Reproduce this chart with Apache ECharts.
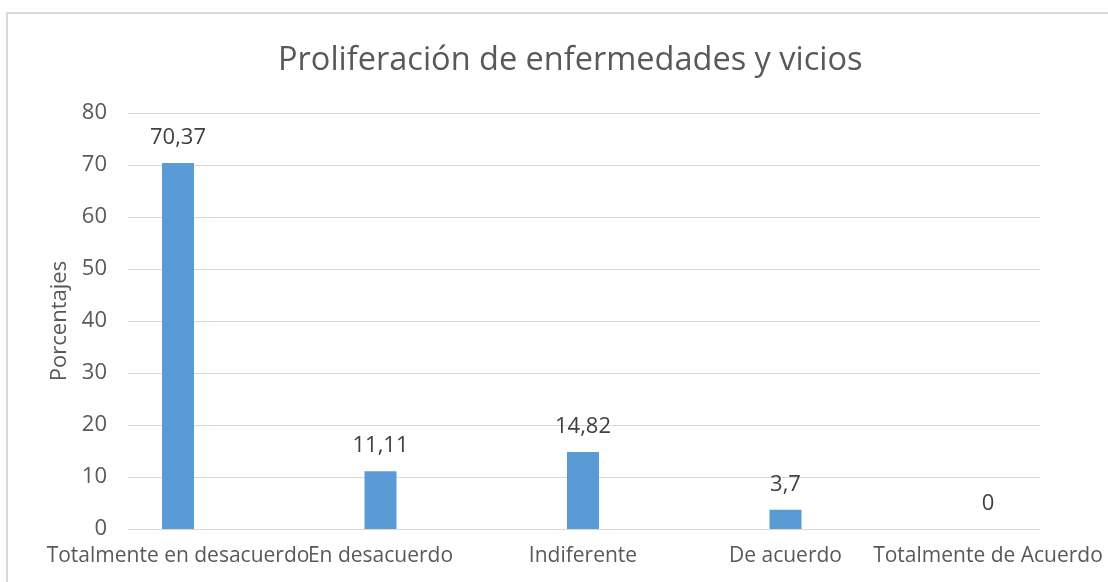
<!DOCTYPE html>
<html>
<head>
<meta charset="utf-8">
<script src="https://cdn.jsdelivr.net/npm/echarts@6/dist/echarts.min.js"></script>
<style>
  html, body { margin: 0; padding: 0; background: #fff; }
  #chart { width: 1108px; height: 582px; }
</style>
</head>
<body>
<div id="chart"></div>
<script>
const categories = ['Totalmente en desacuerdo', 'En desacuerdo', 'Indiferente', 'De acuerdo', 'Totalmente de Acuerdo']
const values = [70.37, 11.11, 14.82, 3.7, 0]
const yMin = 0
const yMax = 80
const yStep = 10

const font = '"Open Sans", sans-serif'
const chart = echarts.init(document.getElementById('chart'))

chart.setOption({
  backgroundColor: '#fff',
  animation: false,
  title: {
    text: 'Proliferación de enfermedades y vicios',
    left: 273,
    top: 39,
    textStyle: { fontFamily: font, fontSize: 32.5, fontWeight: 'normal', color: '#595959' }
  },
  graphic: [{
    type: 'rect',
    shape: { x: 7, y: 13, width: 1130, height: 620 },
    style: { fill: 'none', stroke: '#d9d9d9', lineWidth: 2 },
    silent: true
  }],
  grid: [
    // gridlines + y labels
    { left: 128, right: 68, top: 113, bottom: 53 },
    // bars
    { left: 178, right: 120, top: 113, bottom: 53 }
  ],
  xAxis: [
    { gridIndex: 0, type: 'value', show: false, min: 0, max: 1 },
    {
      gridIndex: 1,
      type: 'category',
      data: categories,
      boundaryGap: false,
      axisLine: { show: false },
      axisTick: { show: false },
      axisLabel: { margin: 17, fontFamily: font, fontSize: 21, color: '#595959', interval: 0 }
    }
  ],
  yAxis: [
    {
      gridIndex: 0,
      type: 'value',
      min: yMin,
      max: yMax,
      interval: yStep,
      name: 'Porcentajes',
      nameLocation: 'middle',
      nameGap: 56,
      nameTextStyle: { fontFamily: font, fontSize: 22, color: '#595959' },
      axisLine: { show: false },
      axisTick: { show: false },
      axisLabel: { margin: 21, fontFamily: font, fontSize: 22, color: '#595959' },
      splitLine: { lineStyle: { color: '#d9d9d9', width: 1 } }
    },
    { gridIndex: 1, type: 'value', min: yMin, max: yMax, show: false, splitLine: { show: false } }
  ],
  series: [{
    type: 'bar',
    xAxisIndex: 1,
    yAxisIndex: 1,
    data: values,
    barWidth: 32,
    itemStyle: { color: '#5b9bd5' },
    label: {
      show: true,
      position: 'top',
      distance: 14,
      fontFamily: font,
      fontSize: 22,
      color: '#404040',
      formatter: p => String(p.value).replace('.', ',')
    }
  }]
})
</script>
</body>
</html>
